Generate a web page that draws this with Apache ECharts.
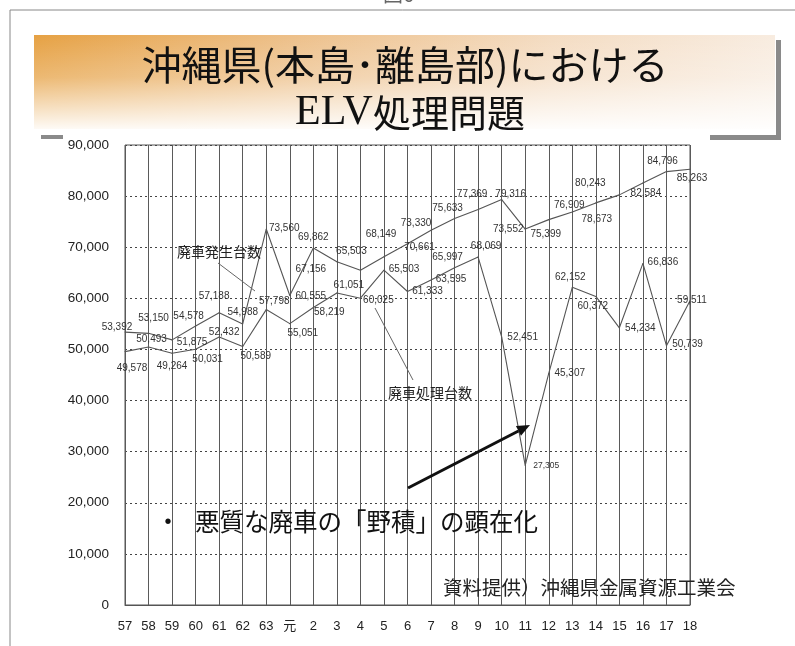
<!DOCTYPE html>
<html><head><meta charset="utf-8">
<script src="https://cdn.jsdelivr.net/npm/echarts@6/dist/echarts.min.js"></script>
<style>html,body{margin:0;padding:0;background:#fff}#c{width:795px;height:646px}</style>
</head><body><div id="c"></div>
<script>
// ---- data ----
const categories = ['57','58','59','60','61','62','63','元','2','3','4','5','6','7','8','9','10','11','12','13','14','15','16','17','18'];
const generated = [53392,53150,51875,54578,57188,54988,73560,60555,69862,67156,65503,68149,70661,73330,75633,77369,79316,73552,75399,76909,78673,80243,82584,84796,85263];
const processed = [49578,50493,49264,50031,52432,50589,57798,55051,58219,61051,60025,65503,61333,63595,65997,68069,52451,27305,45307,62152,60372,54234,66836,50739,59511];
const yMin = 0, yMax = 90000, yInterval = 10000;

// ---- label placement (style only) ----
const genLabelOffset = [[-8,-5],[5,-15],[20,2],[-7,-10],[-5,-16],[0,-12],[18,-1],[21,1],[0,-11],[-26,7],[-9,-19],[-3,-22],[12,3],[-15,-7],[-7,-10],[-6,-15],[9,-5],[-17,0],[-3,15],[-3,-7],[1,16],[-29,-12],[3,10],[-4,-10],[2,9]];
const procLabelOffset = [[7,17],[3,-8],[0,13],[12,10],[5,-5],[13,10],[8,-8],[13,10],[16,5],[12,-8],[18,2],[20,-1],[20,0],[20,-1],[-7,-10],[8,-11],[21,0],[21,0],[21,0],[-2,-10],[-3,10],[21,0],[20,-1],[21,-1],[2,-1]];

const fmt = v => Number(v).toLocaleString('en-US');
const numFont = 'Liberation Sans, Arial, Noto Sans CJK JP, sans-serif';
const jpFont = 'Noto Sans CJK JP, sans-serif';

function mkData(vals, offs, special) {
  return vals.map((v, i) => {
    const lab = { offset: offs[i] };
    if (special && special[i]) Object.assign(lab, special[i]);
    return { value: v, label: lab };
  });
}

// arrow geometry
const a0 = [408, 488], a1 = [530, 425];
const dx = a1[0]-a0[0], dy = a1[1]-a0[1], L = Math.hypot(dx, dy);
const ux = dx/L, uy = dy/L, px = -uy, py = ux;
const hl = 13, hw = 5.5;
const bx = a1[0]-ux*hl, by = a1[1]-uy*hl;

const chart = echarts.init(document.getElementById('c'), null, {renderer: 'canvas'});
chart.setOption({
  animation: false,
  backgroundColor: '#fff',
  grid: { left: 125, right: 105, top: 145, bottom: 41, show: true, borderColor: '#555', borderWidth: 1 },
  xAxis: {
    type: 'category', data: categories, boundaryGap: false,
    axisLine: { show: true, lineStyle: { color: '#555', width: 1 } },
    axisTick: { show: false },
    axisLabel: { interval: 0, margin: 15, color: '#222', fontSize: 13, fontFamily: numFont },
    splitLine: { show: true, interval: 0, lineStyle: { color: '#5a5a5a', width: 1, type: 'solid' } }
  },
  yAxis: {
    type: 'value', min: yMin, max: yMax, interval: yInterval,
    axisLine: { show: false }, axisTick: { show: false },
    axisLabel: { margin: 16, color: '#222', fontSize: 13.5, fontFamily: numFont, formatter: v => fmt(v) },
    splitLine: { show: true, lineStyle: { color: '#444', width: 1, type: [2, 3] } }
  },
  series: [
    {
      name: '廃車発生台数', type: 'line', data: mkData(generated, genLabelOffset),
      symbol: 'circle', symbolSize: 1, showSymbol: true,
      itemStyle: { color: '#555' }, lineStyle: { color: '#555', width: 1.1 },
      label: { show: true, position: 'inside', color: '#333', fontSize: 10, fontFamily: numFont, formatter: p => fmt(p.value) },
      z: 3
    },
    {
      name: '廃車処理台数', type: 'line', data: mkData(processed, procLabelOffset, {17: {fontSize: 8.5}}),
      symbol: 'circle', symbolSize: 1, showSymbol: true,
      itemStyle: { color: '#555' }, lineStyle: { color: '#555', width: 1.1 },
      label: { show: true, position: 'inside', color: '#333', fontSize: 10, fontFamily: numFont, formatter: p => fmt(p.value) },
      z: 3
    }
  ],
  graphic: [
    // page frame
    { type: 'line', shape: { x1: 10, y1: 10, x2: 795, y2: 10 }, style: { stroke: '#888', lineWidth: 1 } },
    { type: 'line', shape: { x1: 10, y1: 10, x2: 10, y2: 646 }, style: { stroke: '#888', lineWidth: 1 } },
    { type: 'text', x: 383, y: -16, style: { text: '図6', font: '20px ' + jpFont, fill: '#666' } },
    // banner
    { type: 'rect', shape: { x: 34, y: 35, width: 741, height: 94 },
      style: { fill: new echarts.graphic.LinearGradient(0, 0, 1, 0, [
        { offset: 0, color: '#E6A143' }, { offset: 0.35, color: '#EDC08A' },
        { offset: 0.7, color: '#F4DCC2' }, { offset: 1, color: '#F8ECE0' }]) } },
    { type: 'rect', shape: { x: 34, y: 35, width: 741, height: 94 },
      style: { fill: new echarts.graphic.LinearGradient(0, 0, 0, 1, [
        { offset: 0, color: 'rgba(255,255,255,0)' }, { offset: 0.45, color: 'rgba(255,255,255,0.25)' },
        { offset: 1, color: 'rgba(255,255,255,0.95)' }]) } },
    { type: 'rect', shape: { x: 776, y: 40, width: 5, height: 100 }, style: { fill: '#8a8a8a' } },
    { type: 'rect', shape: { x: 710, y: 135, width: 71, height: 5 }, style: { fill: '#8a8a8a' } },
    { type: 'rect', shape: { x: 41, y: 135, width: 22, height: 4 }, style: { fill: '#8a8a8a' } },
    { type: 'text', x: 405, y: 65, style: { text: '沖縄県(本島･離島部)における', font: '40px ' + jpFont, fill: '#111', textAlign: 'center', textVerticalAlign: 'middle', align: 'center', verticalAlign: 'middle' } },
    { type: 'text', x: 410, y: 113, style: { text: '{a|ELV}{b|処理問題}', fill: '#111', textAlign: 'center', textVerticalAlign: 'middle', align: 'center', verticalAlign: 'middle',
      rich: { a: { fontFamily: 'Liberation Serif, serif', fontSize: 42, fill: '#111', color: '#111' }, b: { fontFamily: jpFont, fontSize: 38, fill: '#111', color: '#111' } } } },
    // annotations
    { type: 'text', x: 177, y: 252, style: { text: '廃車発生台数', font: '14px ' + jpFont, fill: '#222', textVerticalAlign: 'middle', verticalAlign: 'middle' }, z: 10 },
    { type: 'line', shape: { x1: 218, y1: 263, x2: 255, y2: 291 }, style: { stroke: '#666', lineWidth: 1 }, z: 10 },
    { type: 'text', x: 388, y: 393, style: { text: '廃車処理台数', font: '14px ' + jpFont, fill: '#222', textVerticalAlign: 'middle', verticalAlign: 'middle' }, z: 10 },
    { type: 'line', shape: { x1: 375, y1: 308, x2: 413, y2: 380 }, style: { stroke: '#666', lineWidth: 1 }, z: 10 },
    { type: 'line', shape: { x1: a0[0], y1: a0[1], x2: bx, y2: by }, style: { stroke: '#111', lineWidth: 3 }, z: 10 },
    { type: 'polygon', shape: { points: [[a1[0], a1[1]], [bx+px*hw, by+py*hw], [bx-px*hw, by-py*hw]] }, style: { fill: '#111' }, z: 10 },
    { type: 'text', x: 168, y: 522, style: { text: '•', font: '20px ' + numFont, fill: '#111', textAlign: 'center', textVerticalAlign: 'middle', align: 'center', verticalAlign: 'middle' }, z: 10 },
    { type: 'text', x: 195, y: 522, style: { text: '悪質な廃車の「野積」の顕在化', font: '24.5px ' + jpFont, fill: '#111', textVerticalAlign: 'middle', verticalAlign: 'middle' }, z: 10 },
    { type: 'text', x: 443, y: 588, style: { text: '資料提供）沖縄県金属資源工業会', font: '19.5px ' + jpFont, fill: '#222', textVerticalAlign: 'middle', verticalAlign: 'middle' }, z: 10 }
  ]
});
</script>
</body></html>
